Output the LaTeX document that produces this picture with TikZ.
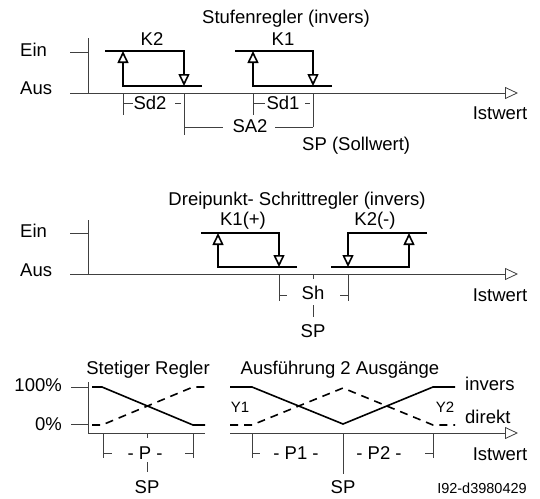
\documentclass[tikz,border=0pt]{standalone}
\usepackage{fontspec}
\setmainfont{Liberation Sans}
\usetikzlibrary{arrows.meta}
\begin{document}
\begin{tikzpicture}[x=1pt,y=-1pt,
  lbl/.style={font=\fontsize{18.5}{20}\selectfont, inner sep=0pt, anchor=base},
  lblw/.style={lbl, anchor=base west},
  lble/.style={lbl, anchor=base east},
  smalllbl/.style={font=\fontsize{15}{16}\selectfont, inner sep=0pt, anchor=base},
  tinylbl/.style={font=\fontsize{14.5}{16}\selectfont, inner sep=0pt, anchor=base},
  axis/.style={line width=0.8pt, draw=black!75},
  axarrow/.style={axis, -{Triangle[open,length=13pt,width=12pt,line width=0.8pt]}},
  rarrow/.style={line width=1.6pt, -{Triangle[open,length=12pt,width=11pt]}},
  curve/.style={line width=1.6pt},
  dcurve/.style={line width=1.6pt, dash pattern=on 8pt off 6pt},
]
\useasboundingbox (0,0) rectangle (540,498);

% ---------- Section 1: Stufenregler ----------
\node[lbl] (t1) at (286,23) {Stufenregler (invers)};
\node[lbl] (k2) at (152,45) {K2};
\node[lbl] (k1) at (283,45) {K1};
\node[lblw] (ein1) at (20,56) {Ein};
\node[lblw] (aus1) at (20,94) {Aus};
\draw[axis] (88,38) -- (88,93);
\draw[axis] (70,52) -- (88,52);
\draw[axarrow] (70,93) -- (518,93);
\draw[rarrow] (105,51) -- (184,51) -- (184,86);
\draw[rarrow] (202,86) -- (123,86) -- (123,51);
\draw[rarrow] (235,51) -- (313,51) -- (313,86);
\draw[rarrow] (332,86) -- (253,86) -- (253,51);
\draw[axis] (123,93) -- (123,115);
\draw[axis] (123,103) -- (133,103);
\draw[axis] (175,103) -- (181,103);
\draw[axis] (184,93) -- (184,135);
\draw[axis] (184,127) -- (223,127);
\draw[axis] (275,127) -- (313,127);
\draw[axis] (313,93) -- (313,127);
\draw[axis] (253,93) -- (253,115);
\draw[axis] (253,103) -- (265,103);
\draw[axis] (305,103) -- (310,103);
\node[lbl] (sd2) at (150,109) {Sd2};
\node[lbl] (sd1) at (283,109) {Sd1};
\node[lbl] (sa2) at (250,132) {SA2};
\node[lblw] (sp1) at (302,150) {SP (Sollwert)};
\node[lbl] (ist1) at (500,119) {Istwert};

% ---------- Section 2: Dreipunkt-Schrittregler ----------
\node[lbl] (t2) at (297,205) {Dreipunkt- Schrittregler (invers)};
\node[lbl] (k1p) at (243,225) {K1(+)};
\node[lbl] (k2m) at (375,225) {K2(-)};
\node[lblw] (ein2) at (20,237) {Ein};
\node[lblw] (aus2) at (20,276) {Aus};
\draw[axis] (88,220) -- (88,274);
\draw[axis] (70,233) -- (88,233);
\draw[axarrow] (70,274) -- (518,274);
\draw[rarrow] (201,233) -- (279,233) -- (279,267);
\draw[rarrow] (297,267) -- (218,267) -- (218,233);
\draw[rarrow] (427,233) -- (348,233) -- (348,267);
\draw[rarrow] (331,267) -- (409,267) -- (409,233);
\draw[axis] (279,274) -- (279,301);
\draw[axis] (279,295) -- (287,295);
\draw[axis] (348,274) -- (348,301);
\draw[axis] (340,295) -- (348,295);
\draw[axis] (313,274) -- (313,279);
\draw[axis] (313,305) -- (313,317);
\node[lbl] (sh) at (313,299) {Sh};
\node[lbl] (sp2) at (313,337) {SP};
\node[lbl] (ist2) at (500,301) {Istwert};

% ---------- Section 3: Stetiger Regler ----------
\node[lbl] (t3) at (148,374) {Stetiger Regler};
\node[lbl] (t4) at (340,374) {Ausführung 2 Ausgänge};
\node[lble] (p100) at (62,391) {100\%};
\node[lble] (p0) at (62,430) {0\%};
\draw[axis] (88,382) -- (88,433);
\draw[axis] (71,387) -- (88,387);
\draw[axis] (71,424) -- (88,424);
\draw[axis] (88,433) -- (205,433);
\draw[axarrow] (230,433) -- (518,433);
\draw[curve] (92,387) -- (102,387) -- (193,425) -- (205,425);
\draw[dcurve] (92,425) -- (102,425) -- (193,387) -- (205,387);
\draw[curve] (230,387) -- (252,387) -- (343,424) -- (433,387) -- (455,387);
\draw[dcurve] (230,425) -- (252,425) -- (343,388) -- (433,425) -- (455,425);
\draw[axis] (103,433) -- (103,458);
\draw[axis] (103,453) -- (112,453);
\draw[axis] (193,433) -- (193,458);
\draw[axis] (185,453) -- (193,453);
\draw[axis] (147,433) -- (147,438);
\draw[axis] (147,462) -- (147,472);
\draw[axis] (252,433) -- (252,458);
\draw[axis] (252,453) -- (260,453);
\draw[axis] (343,433) -- (343,474);
\draw[axis] (433,433) -- (433,458);
\draw[axis] (425,453) -- (433,453);
\node[lbl] (p) at (145,459) {- P -};
\node[lbl] (sp3) at (147,493) {SP};
\node[smalllbl] (y1) at (240,412) {Y1};
\node[smalllbl] (y2) at (445,412) {Y2};
\node[lbl] (p1) at (296,459) {- P1 -};
\node[lbl] (p2) at (379,459) {- P2 -};
\node[lbl] (sp4) at (343,493) {SP};
\node[lblw] (inv) at (465,390) {invers};
\node[lblw] (dir) at (465,423) {direkt};
\node[lbl] (ist3) at (500,460) {Istwert};
\node[tinylbl] (id) at (482,493) {I92-d3980429};
\end{tikzpicture}
\end{document}
